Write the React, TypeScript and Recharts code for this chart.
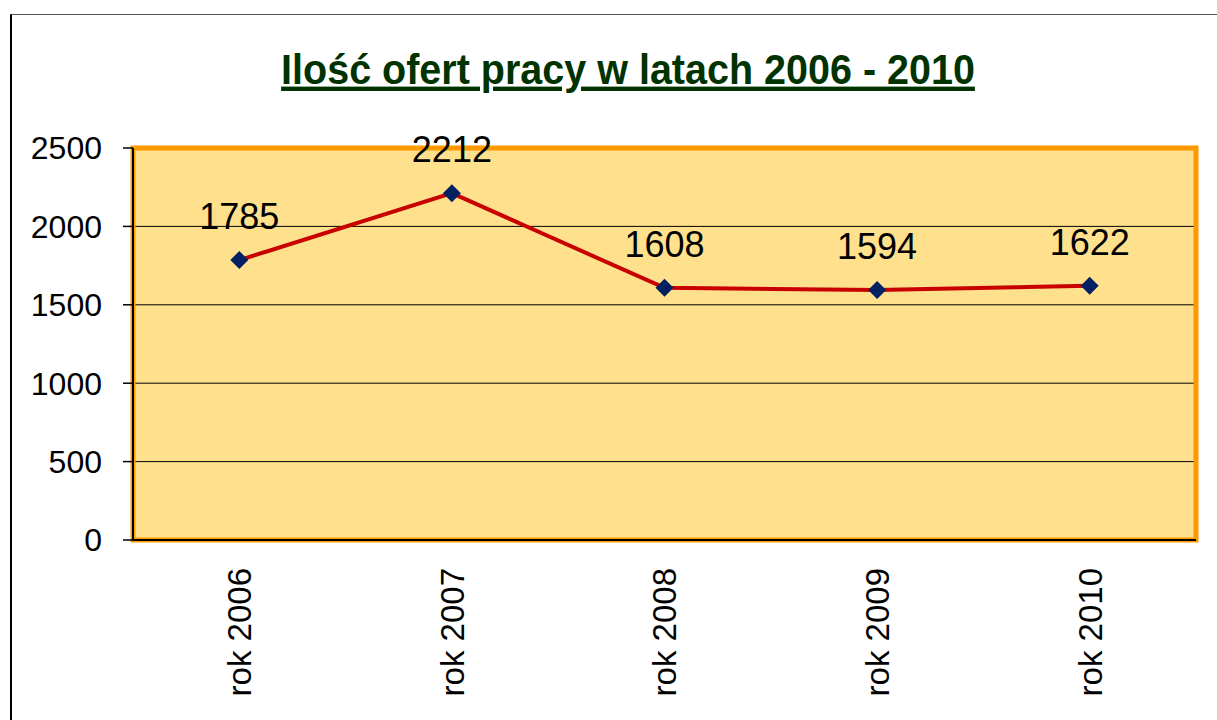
import React from "react";
import {
  LineChart,
  Line,
  XAxis,
  YAxis,
  CartesianGrid,
  ReferenceArea,
  ReferenceLine,
  LabelList,
} from "recharts";

const title = "Ilość ofert pracy w latach 2006 - 2010";
const categories = ["rok 2006", "rok 2007", "rok 2008", "rok 2009", "rok 2010"];
const offers = [1785, 2212, 1608, 1594, 1622];
const yTicks = [0, 500, 1000, 1500, 2000, 2500];

const FONT = "'Liberation Sans', Arial, sans-serif";

// each category sits in the middle of its own slot, tick marks go on the slot edges
const data = categories.map((name, i) => ({ slot: i + 0.5, name, offers: offers[i] }));
const edgeTicks = [...categories.map((_, i) => i), categories.length];
const centerTicks = data.map((d) => d.slot);

function CategoryTick(props: any) {
  const { x, y, payload } = props;
  const idx = centerTicks.indexOf(payload.value);
  return (
    <g transform={`translate(${x},${y + 20}) rotate(-90)`}>
      <text x={0} y={0} dy="0.36em" textAnchor="end" fontSize={33} fill="#000">
        {categories[idx]}
      </text>
    </g>
  );
}

function Diamond(props: any) {
  const { cx, cy, index } = props;
  const r = 9;
  return (
    <polygon
      key={`d-${index}`}
      points={`${cx},${cy - r} ${cx + r},${cy} ${cx},${cy + r} ${cx - r},${cy}`}
      fill="#022163"
    />
  );
}

export default function App() {
  return (
    <div
      style={{
        position: "fixed",
        left: 10,
        top: 14,
        width: 1207,
        height: 706,
        boxSizing: "border-box",
        borderTop: "1px solid #555",
        borderLeft: "2px solid #000",
        background: "#fff",
        fontFamily: FONT,
      }}
    >
      <div
        style={{
          position: "absolute",
          left: 616 - 450,
          width: 900,
          top: 31,
          textAlign: "center",
          fontSize: 39.5,
          lineHeight: "46px",
          fontWeight: "bold",
          color: "#003300",
          textDecoration: "underline",
          textDecorationThickness: "4px",
          textUnderlineOffset: "2px",
          transform: "scaleY(1.1)",
        }}
      >
        {title}
      </div>
      <LineChart
        width={1205}
        height={705}
        data={data}
        margin={{ top: 133, right: 21, bottom: 0, left: 0 }}
      >
        <CartesianGrid
          vertical={false}
          fill="#FFE08C"
          fillOpacity={1}
          stroke="#000"
          strokeWidth={1}
        />
        <ReferenceArea
          x1={0}
          x2={categories.length}
          y1={0}
          y2={2500}
          fill="none"
          stroke="#FF9900"
          strokeWidth={5}
          ifOverflow="visible"
        />
        <ReferenceLine x={0} stroke="#000" strokeWidth={2} ifOverflow="visible" />
        <ReferenceLine y={0} stroke="#000" strokeWidth={2} ifOverflow="visible" />
        <XAxis
          type="number"
          dataKey="slot"
          domain={[0, categories.length]}
          ticks={edgeTicks}
          tick={false}
          tickSize={8}
          tickLine={{ stroke: "#000", strokeWidth: 1.5 }}
          axisLine={{ stroke: "#000", strokeWidth: 2 }}
          height={8}
        />
        <XAxis
          xAxisId="cat"
          type="number"
          dataKey="slot"
          domain={[0, categories.length]}
          ticks={centerTicks}
          tick={<CategoryTick />}
          tickSize={0}
          tickMargin={0}
          tickLine={false}
          axisLine={false}
          height={172}
          interval={0}
        />
        <YAxis
          domain={[0, 2500]}
          ticks={yTicks}
          width={121}
          tickSize={10}
          tickMargin={21}
          tick={{ fontSize: 32, fill: "#000" }}
          tickLine={{ stroke: "#000", strokeWidth: 1.5 }}
          axisLine={{ stroke: "#000", strokeWidth: 2 }}
          interval={0}
        />
        <Line
          type="linear"
          dataKey="offers"
          stroke="#C80000"
          strokeWidth={4}
          dot={<Diamond />}
          activeDot={false}
          isAnimationActive={false}
        >
          <LabelList
            dataKey="offers"
            position="top"
            offset={31}
            fontSize={36}
            fill="#000"
          />
        </Line>
      </LineChart>
    </div>
  );
}
